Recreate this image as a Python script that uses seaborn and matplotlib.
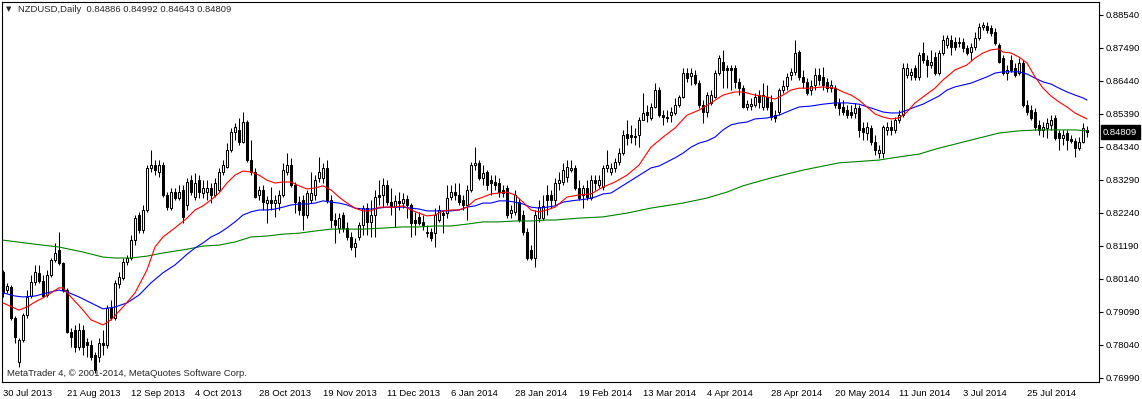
import numpy as np
import pandas as pd
import seaborn as sns
import matplotlib
matplotlib.use("Agg")
import matplotlib.pyplot as plt
import matplotlib.transforms as mtransforms

# daily OHLC, NZDUSD, 30 Jul 2013 .. mid Aug 2014
open_ = [
    0.8036, 0.7978, 0.7988, 0.7889, 0.7749, 0.7819, 0.7898, 0.7959, 0.8004, 0.8033,
    0.8007, 0.7962, 0.8026, 0.8073, 0.8105, 0.8064, 0.7978, 0.7844, 0.7851, 0.7797,
    0.7851, 0.7812, 0.7803, 0.7771, 0.7765, 0.7809, 0.7803, 0.7921, 0.7889, 0.7998,
    0.8017, 0.8067, 0.8080, 0.8137, 0.8217, 0.8169, 0.8233, 0.8367, 0.8376, 0.8354,
    0.8376, 0.8281, 0.8239, 0.8290, 0.8271, 0.8297, 0.8249, 0.8328, 0.8274, 0.8328,
    0.8287, 0.8290, 0.8303, 0.8281, 0.8297, 0.8354, 0.8370, 0.8424, 0.8481, 0.8488,
    0.8449, 0.8513, 0.8392, 0.8354, 0.8281, 0.8297, 0.8255, 0.8265, 0.8255, 0.8255,
    0.8281, 0.8354, 0.8376, 0.8313, 0.8258, 0.8265, 0.8217, 0.8265, 0.8281, 0.8335,
    0.8335, 0.8367, 0.8265, 0.8201, 0.8176, 0.8217, 0.8176, 0.8147, 0.8115, 0.8147,
    0.8185, 0.8239, 0.8195, 0.8217, 0.8281, 0.8281, 0.8313, 0.8258, 0.8242, 0.8262,
    0.8255, 0.8268, 0.8249, 0.8201, 0.8211, 0.8195, 0.8159, 0.8163, 0.8159, 0.8201,
    0.8223, 0.8223, 0.8274, 0.8290, 0.8281, 0.8265, 0.8249, 0.8297, 0.8376, 0.8383,
    0.8335, 0.8354, 0.8328, 0.8322, 0.8319, 0.8297, 0.8303, 0.8223, 0.8227, 0.8258,
    0.8217, 0.8163, 0.8105, 0.8080, 0.8207, 0.8207, 0.8281, 0.8281, 0.8265, 0.8319,
    0.8322, 0.8338, 0.8360, 0.8367, 0.8303, 0.8281, 0.8303, 0.8271, 0.8328, 0.8313,
    0.8306, 0.8367, 0.8354, 0.8367, 0.8386, 0.8414, 0.8475, 0.8472, 0.8469, 0.8472,
    0.8520, 0.8545, 0.8526, 0.8561, 0.8615, 0.8535, 0.8529, 0.8535, 0.8542, 0.8567,
    0.8593, 0.8669, 0.8660, 0.8663, 0.8637, 0.8567, 0.8545, 0.8574, 0.8593, 0.8669,
    0.8704, 0.8685, 0.8685, 0.8685, 0.8641, 0.8621, 0.8561, 0.8564, 0.8567, 0.8599,
    0.8561, 0.8593, 0.8577, 0.8535, 0.8545, 0.8615, 0.8628, 0.8663, 0.8673, 0.8736,
    0.8657, 0.8641, 0.8615, 0.8631, 0.8663, 0.8657, 0.8641, 0.8621, 0.8621, 0.8574,
    0.8561, 0.8551, 0.8545, 0.8542, 0.8558, 0.8494, 0.8478, 0.8494, 0.8449, 0.8414,
    0.8414, 0.8488, 0.8497, 0.8488, 0.8520, 0.8535, 0.8663, 0.8663, 0.8685, 0.8657,
    0.8733, 0.8711, 0.8695, 0.8720, 0.8669, 0.8733, 0.8758, 0.8774, 0.8768, 0.8765,
    0.8768, 0.8749, 0.8736, 0.8752, 0.8781, 0.8816, 0.8819, 0.8813, 0.8800, 0.8758,
    0.8717, 0.8669, 0.8711, 0.8685, 0.8669, 0.8701, 0.8567, 0.8551, 0.8545, 0.8504,
    0.8488, 0.8494, 0.8504, 0.8526, 0.8478, 0.8462, 0.8478, 0.8459, 0.8453, 0.8430,
    0.8449, 0.84886,
]
high = [
    0.8042, 0.8001, 0.7994, 0.7895, 0.7825, 0.7905, 0.7978, 0.8026, 0.8058, 0.8058,
    0.8026, 0.8042, 0.8080, 0.8128, 0.8163, 0.8067, 0.7985, 0.7857, 0.7867, 0.7873,
    0.7867, 0.7825, 0.7819, 0.7781, 0.7825, 0.7851, 0.7930, 0.7946, 0.8010, 0.8036,
    0.8080, 0.8089, 0.8153, 0.8217, 0.8227, 0.8249, 0.8376, 0.8424, 0.8392, 0.8392,
    0.8386, 0.8290, 0.8303, 0.8303, 0.8313, 0.8313, 0.8335, 0.8344, 0.8351, 0.8344,
    0.8328, 0.8328, 0.8319, 0.8335, 0.8367, 0.8392, 0.8446, 0.8494, 0.8510, 0.8526,
    0.8545, 0.8520, 0.8456, 0.8367, 0.8310, 0.8313, 0.8278, 0.8306, 0.8281, 0.8297,
    0.8383, 0.8414, 0.8399, 0.8322, 0.8278, 0.8281, 0.8297, 0.8354, 0.8344, 0.8402,
    0.8383, 0.8392, 0.8281, 0.8223, 0.8223, 0.8227, 0.8195, 0.8163, 0.8144, 0.8195,
    0.8249, 0.8255, 0.8265, 0.8297, 0.8328, 0.8335, 0.8328, 0.8303, 0.8281, 0.8290,
    0.8287, 0.8281, 0.8255, 0.8227, 0.8227, 0.8217, 0.8185, 0.8176, 0.8239, 0.8249,
    0.8233, 0.8313, 0.8313, 0.8319, 0.8319, 0.8281, 0.8313, 0.8386, 0.8433, 0.8392,
    0.8376, 0.8360, 0.8344, 0.8344, 0.8335, 0.8313, 0.8313, 0.8249, 0.8297, 0.8271,
    0.8233, 0.8176, 0.8121, 0.8233, 0.8265, 0.8281, 0.8313, 0.8297, 0.8335, 0.8354,
    0.8383, 0.8392, 0.8392, 0.8376, 0.8328, 0.8313, 0.8328, 0.8344, 0.8344, 0.8344,
    0.8376, 0.8424, 0.8383, 0.8399, 0.8430, 0.8488, 0.8520, 0.8504, 0.8494, 0.8529,
    0.8606, 0.8567, 0.8574, 0.8637, 0.8625, 0.8551, 0.8551, 0.8561, 0.8590, 0.8599,
    0.8685, 0.8685, 0.8685, 0.8679, 0.8647, 0.8583, 0.8609, 0.8615, 0.8679, 0.8727,
    0.8743, 0.8695, 0.8695, 0.8695, 0.8653, 0.8631, 0.8583, 0.8590, 0.8606, 0.8615,
    0.8637, 0.8631, 0.8599, 0.8551, 0.8621, 0.8647, 0.8669, 0.8685, 0.8774, 0.8743,
    0.8679, 0.8653, 0.8647, 0.8685, 0.8685, 0.8688, 0.8653, 0.8647, 0.8631, 0.8590,
    0.8583, 0.8567, 0.8567, 0.8574, 0.8567, 0.8513, 0.8513, 0.8504, 0.8472, 0.8440,
    0.8504, 0.8513, 0.8520, 0.8529, 0.8551, 0.8701, 0.8701, 0.8685, 0.8695, 0.8736,
    0.8768, 0.8727, 0.8743, 0.8736, 0.8743, 0.8790, 0.8790, 0.8790, 0.8784, 0.8784,
    0.8781, 0.8758, 0.8765, 0.8800, 0.8829, 0.8832, 0.8832, 0.8822, 0.8813, 0.8765,
    0.8727, 0.8695, 0.8727, 0.8701, 0.8717, 0.8711, 0.8583, 0.8567, 0.8558, 0.8520,
    0.8513, 0.8526, 0.8535, 0.8535, 0.8488, 0.8488, 0.8488, 0.8472, 0.8462, 0.8465,
    0.8510, 0.84992,
]
low = [
    0.7956, 0.7969, 0.7883, 0.7809, 0.7733, 0.7812, 0.7889, 0.7953, 0.7994, 0.8001,
    0.7956, 0.7956, 0.8020, 0.8067, 0.8058, 0.7972, 0.7841, 0.7797, 0.7781, 0.7787,
    0.7771, 0.7765, 0.7755, 0.7714, 0.7749, 0.7771, 0.7793, 0.7883, 0.7883, 0.7985,
    0.8010, 0.8058, 0.8073, 0.8121, 0.8159, 0.8159, 0.8227, 0.8354, 0.8344, 0.8338,
    0.8274, 0.8233, 0.8233, 0.8265, 0.8265, 0.8191, 0.8233, 0.8281, 0.8265, 0.8271,
    0.8271, 0.8265, 0.8255, 0.8274, 0.8290, 0.8344, 0.8367, 0.8418, 0.8456, 0.8440,
    0.8446, 0.8386, 0.8344, 0.8271, 0.8265, 0.8233, 0.8191, 0.8233, 0.8211, 0.8233,
    0.8274, 0.8344, 0.8306, 0.8223, 0.8217, 0.8169, 0.8207, 0.8255, 0.8265, 0.8322,
    0.8319, 0.8255, 0.8176, 0.8128, 0.8159, 0.8163, 0.8137, 0.8105, 0.8083, 0.8137,
    0.8153, 0.8153, 0.8147, 0.8147, 0.8249, 0.8242, 0.8249, 0.8217, 0.8179, 0.8233,
    0.8239, 0.8207, 0.8147, 0.8153, 0.8185, 0.8169, 0.8147, 0.8134, 0.8115, 0.8195,
    0.8159, 0.8207, 0.8265, 0.8265, 0.8249, 0.8233, 0.8201, 0.8290, 0.8360, 0.8328,
    0.8313, 0.8297, 0.8281, 0.8297, 0.8274, 0.8274, 0.8207, 0.8207, 0.8217, 0.8195,
    0.8153, 0.8073, 0.8073, 0.8051, 0.8195, 0.8201, 0.8217, 0.8239, 0.8249, 0.8297,
    0.8313, 0.8322, 0.8354, 0.8297, 0.8265, 0.8239, 0.8265, 0.8265, 0.8297, 0.8303,
    0.8297, 0.8354, 0.8344, 0.8354, 0.8376, 0.8408, 0.8440, 0.8446, 0.8440, 0.8433,
    0.8520, 0.8513, 0.8520, 0.8558, 0.8529, 0.8504, 0.8513, 0.8513, 0.8535, 0.8561,
    0.8590, 0.8641, 0.8631, 0.8631, 0.8558, 0.8510, 0.8529, 0.8567, 0.8590, 0.8663,
    0.8621, 0.8621, 0.8615, 0.8621, 0.8599, 0.8558, 0.8551, 0.8551, 0.8561, 0.8558,
    0.8551, 0.8551, 0.8520, 0.8513, 0.8535, 0.8606, 0.8615, 0.8647, 0.8663, 0.8647,
    0.8621, 0.8599, 0.8599, 0.8615, 0.8631, 0.8615, 0.8609, 0.8609, 0.8558, 0.8535,
    0.8535, 0.8526, 0.8526, 0.8526, 0.8465, 0.8456, 0.8456, 0.8440, 0.8408, 0.8399,
    0.8399, 0.8472, 0.8472, 0.8478, 0.8510, 0.8529, 0.8653, 0.8647, 0.8647, 0.8647,
    0.8701, 0.8657, 0.8685, 0.8663, 0.8663, 0.8727, 0.8749, 0.8727, 0.8743, 0.8752,
    0.8736, 0.8727, 0.8711, 0.8743, 0.8774, 0.8806, 0.8797, 0.8787, 0.8758, 0.8701,
    0.8663, 0.8647, 0.8673, 0.8657, 0.8663, 0.8561, 0.8535, 0.8520, 0.8488, 0.8472,
    0.8465, 0.8462, 0.8488, 0.8456, 0.8424, 0.8440, 0.8424, 0.8446, 0.8402, 0.8424,
    0.8446, 0.84643,
]
close = [
    0.7972, 0.7991, 0.7889, 0.7829, 0.7819, 0.7898, 0.7956, 0.8004, 0.8036, 0.8007,
    0.7959, 0.8026, 0.8073, 0.8096, 0.8064, 0.7978, 0.7844, 0.7829, 0.7797, 0.7851,
    0.7797, 0.7803, 0.7765, 0.7723, 0.7809, 0.7803, 0.7921, 0.7889, 0.8001, 0.8020,
    0.8067, 0.8080, 0.8137, 0.8207, 0.8169, 0.8233, 0.8367, 0.8376, 0.8360, 0.8376,
    0.8281, 0.8242, 0.8290, 0.8271, 0.8290, 0.8211, 0.8322, 0.8290, 0.8319, 0.8290,
    0.8303, 0.8303, 0.8281, 0.8319, 0.8354, 0.8376, 0.8424, 0.8481, 0.8497, 0.8449,
    0.8513, 0.8392, 0.8354, 0.8274, 0.8297, 0.8258, 0.8265, 0.8255, 0.8265, 0.8281,
    0.8360, 0.8376, 0.8313, 0.8258, 0.8233, 0.8217, 0.8287, 0.8287, 0.8328, 0.8354,
    0.8367, 0.8265, 0.8201, 0.8185, 0.8207, 0.8176, 0.8147, 0.8115, 0.8128, 0.8185,
    0.8239, 0.8195, 0.8217, 0.8274, 0.8274, 0.8313, 0.8258, 0.8246, 0.8262, 0.8255,
    0.8268, 0.8249, 0.8191, 0.8191, 0.8191, 0.8185, 0.8163, 0.8144, 0.8217, 0.8233,
    0.8217, 0.8271, 0.8290, 0.8281, 0.8258, 0.8249, 0.8297, 0.8376, 0.8383, 0.8335,
    0.8351, 0.8313, 0.8319, 0.8313, 0.8290, 0.8287, 0.8217, 0.8233, 0.8281, 0.8201,
    0.8163, 0.8080, 0.8080, 0.8217, 0.8242, 0.8246, 0.8265, 0.8265, 0.8319, 0.8328,
    0.8360, 0.8370, 0.8367, 0.8303, 0.8271, 0.8303, 0.8274, 0.8328, 0.8319, 0.8328,
    0.8367, 0.8376, 0.8367, 0.8386, 0.8414, 0.8472, 0.8462, 0.8465, 0.8465, 0.8520,
    0.8542, 0.8535, 0.8561, 0.8615, 0.8535, 0.8529, 0.8526, 0.8545, 0.8567, 0.8593,
    0.8669, 0.8653, 0.8669, 0.8637, 0.8567, 0.8545, 0.8599, 0.8599, 0.8669, 0.8717,
    0.8679, 0.8679, 0.8679, 0.8641, 0.8621, 0.8561, 0.8570, 0.8570, 0.8593, 0.8577,
    0.8599, 0.8561, 0.8529, 0.8526, 0.8615, 0.8628, 0.8657, 0.8673, 0.8733, 0.8657,
    0.8641, 0.8606, 0.8628, 0.8663, 0.8647, 0.8631, 0.8621, 0.8631, 0.8567, 0.8558,
    0.8545, 0.8535, 0.8535, 0.8558, 0.8488, 0.8481, 0.8497, 0.8449, 0.8424, 0.8424,
    0.8497, 0.8497, 0.8488, 0.8520, 0.8535, 0.8685, 0.8685, 0.8673, 0.8657, 0.8727,
    0.8711, 0.8695, 0.8704, 0.8669, 0.8733, 0.8774, 0.8781, 0.8752, 0.8752, 0.8768,
    0.8749, 0.8733, 0.8752, 0.8781, 0.8816, 0.8822, 0.8806, 0.8797, 0.8765, 0.8704,
    0.8669, 0.8679, 0.8679, 0.8663, 0.8701, 0.8567, 0.8545, 0.8526, 0.8497, 0.8488,
    0.8497, 0.8510, 0.8520, 0.8462, 0.8462, 0.8472, 0.8456, 0.8453, 0.8430, 0.8449,
    0.8494, 0.84809,
]

# moving averages, read at selected bars
red_bar = [0, 4, 6, 8, 10, 12, 14, 15, 17, 20, 22, 25, 27, 30, 33, 36, 38, 40, 43, 46,
           48, 50, 52, 54, 56, 58, 60, 62, 64, 66, 68, 70, 72, 74, 76, 78, 80, 82, 84, 86,
           88, 90, 92, 94, 96, 98, 100, 102, 104, 106, 108, 110, 112, 114, 116, 118, 120,
           122, 124, 126, 128, 130, 132, 134, 136, 138, 141, 144, 147, 150, 153, 156, 159,
           162, 165, 168, 171, 174, 177, 180, 183, 185, 188, 191, 193, 195, 197, 199, 202,
           205, 208, 210, 212, 214, 216, 218, 220, 222, 224, 226, 228, 230, 233, 235, 238,
           241, 243, 245, 247, 249, 250, 252, 254, 256, 258, 260, 262, 264, 266, 268, 270, 271]
red_ma = [0.7937, 0.7914, 0.7924, 0.7940, 0.7953, 0.7969, 0.7985, 0.7985, 0.7956, 0.7914,
          0.7883, 0.7867, 0.7883, 0.7924, 0.7969, 0.8042, 0.8115, 0.8147, 0.8176, 0.8207,
          0.8233, 0.8246, 0.8265, 0.8287, 0.8319, 0.8344, 0.8357, 0.8354, 0.8344, 0.8328,
          0.8319, 0.8322, 0.8322, 0.8310, 0.8300, 0.8303, 0.8310, 0.8297, 0.8274, 0.8255,
          0.8239, 0.8230, 0.8230, 0.8242, 0.8242, 0.8242, 0.8246, 0.8233, 0.8223, 0.8214,
          0.8217, 0.8230, 0.8233, 0.8233, 0.8242, 0.8265, 0.8274, 0.8284, 0.8287, 0.8290,
          0.8281, 0.8258, 0.8233, 0.8227, 0.8233, 0.8242, 0.8274, 0.8281, 0.8284, 0.8306,
          0.8322, 0.8344, 0.8376, 0.8433, 0.8465, 0.8494, 0.8535, 0.8551, 0.8574, 0.8599,
          0.8609, 0.8609, 0.8599, 0.8593, 0.8586, 0.8599, 0.8615, 0.8621, 0.8621, 0.8625,
          0.8621, 0.8609, 0.8599, 0.8583, 0.8561, 0.8539, 0.8529, 0.8523, 0.8526, 0.8545,
          0.8574, 0.8593, 0.8621, 0.8647, 0.8679, 0.8695, 0.8717, 0.8733, 0.8743, 0.8746,
          0.8736, 0.8733, 0.8720, 0.8701, 0.8657, 0.8621, 0.8596, 0.8577, 0.8561, 0.8542,
          0.8529, 0.8523]

blue_bar = [0, 3, 5, 8, 11, 14, 16, 19, 22, 25, 28, 31, 34, 37, 40, 43, 46, 48, 50, 52,
            54, 56, 58, 60, 62, 64, 66, 68, 70, 72, 74, 76, 78, 80, 82, 84, 86, 88, 90, 92,
            96, 100, 102, 104, 106, 108, 110, 112, 114, 116, 118, 120, 122, 124, 126, 128,
            130, 132, 134, 136, 138, 140, 142, 144, 146, 148, 150, 152, 154, 156, 158, 160,
            162, 164, 166, 168, 170, 172, 174, 176, 178, 180, 182, 184, 186, 188, 191, 194,
            197, 199, 202, 205, 208, 211, 214, 217, 220, 222, 224, 226, 228, 230, 232, 234,
            236, 238, 240, 242, 244, 246, 248, 250, 252, 254, 256, 258, 260, 262, 264, 266,
            268, 270, 271]
blue_ma = [0.7969, 0.7959, 0.7956, 0.7959, 0.7969, 0.7978, 0.7972, 0.7956, 0.7937, 0.7918,
           0.7924, 0.7937, 0.7962, 0.8001, 0.8033, 0.8058, 0.8092, 0.8112, 0.8128, 0.8147,
           0.8159, 0.8176, 0.8195, 0.8217, 0.8227, 0.8233, 0.8233, 0.8236, 0.8242, 0.8249,
           0.8252, 0.8252, 0.8255, 0.8262, 0.8258, 0.8255, 0.8249, 0.8239, 0.8236, 0.8236,
           0.8242, 0.8242, 0.8239, 0.8236, 0.8230, 0.8230, 0.8230, 0.8230, 0.8233, 0.8242,
           0.8246, 0.8255, 0.8255, 0.8262, 0.8262, 0.8258, 0.8252, 0.8242, 0.8239, 0.8242,
           0.8246, 0.8258, 0.8262, 0.8265, 0.8268, 0.8274, 0.8284, 0.8287, 0.8303, 0.8319,
           0.8335, 0.8351, 0.8367, 0.8373, 0.8386, 0.8399, 0.8414, 0.8433, 0.8446, 0.8453,
           0.8465, 0.8488, 0.8504, 0.8510, 0.8513, 0.8523, 0.8526, 0.8535, 0.8551, 0.8561,
           0.8564, 0.8570, 0.8574, 0.8574, 0.8570, 0.8558, 0.8545, 0.8542, 0.8542, 0.8551,
           0.8561, 0.8570, 0.8583, 0.8596, 0.8615, 0.8625, 0.8631, 0.8637, 0.8647, 0.8657,
           0.8669, 0.8673, 0.8673, 0.8673, 0.8666, 0.8653, 0.8641, 0.8634, 0.8621, 0.8609,
           0.8599, 0.8590, 0.8583]

green_bar = [0, 8, 14, 20, 25, 28, 32, 36, 40, 46, 50, 54, 58, 62, 66, 70, 74, 78, 82, 86,
             90, 96, 100, 104, 108, 112, 116, 120, 124, 128, 132, 136, 138, 144, 150, 156,
             162, 170, 176, 181, 185, 192, 200, 209, 219, 224, 229, 234, 239, 244, 249, 254,
             259, 264, 268, 271]
green_ma = [0.8137, 0.8124, 0.8115, 0.8099, 0.8083, 0.8080, 0.8080, 0.8086, 0.8096, 0.8108,
            0.8118, 0.8121, 0.8131, 0.8147, 0.8150, 0.8156, 0.8159, 0.8166, 0.8172, 0.8172,
            0.8172, 0.8176, 0.8179, 0.8179, 0.8182, 0.8182, 0.8188, 0.8195, 0.8195, 0.8198,
            0.8198, 0.8201, 0.8201, 0.8207, 0.8211, 0.8223, 0.8239, 0.8255, 0.8271, 0.8290,
            0.8310, 0.8335, 0.8360, 0.8383, 0.8392, 0.8402, 0.8411, 0.8430, 0.8446, 0.8462,
            0.8478, 0.8485, 0.8488, 0.8488, 0.8488, 0.8485]

date_labels = ["30 Jul 2013", "21 Aug 2013", "12 Sep 2013", "4 Oct 2013", "28 Oct 2013",
               "19 Nov 2013", "11 Dec 2013", "6 Jan 2014", "28 Jan 2014", "19 Feb 2014",
               "13 Mar 2014", "4 Apr 2014", "28 Apr 2014", "20 May 2014", "11 Jun 2014",
               "3 Jul 2014", "25 Jul 2014"]
price_ticks = [0.76990, 0.78040, 0.79090, 0.80140, 0.81190, 0.82240,
               0.83290, 0.84340, 0.85390, 0.86440, 0.87490, 0.88540]

W, H = 1142, 399
FS = 6.8


def main():
    sns.set_style("white")
    plt.rcParams["font.family"] = ["Liberation Sans", "DejaVu Sans"]

    df = pd.DataFrame({"open": open_, "high": high, "low": low, "close": close})
    df["bar"] = np.arange(len(df))
    up = df[df["close"] >= df["open"]]
    down = df[df["close"] < df["open"]]

    fig = plt.figure(figsize=(W / 100, H / 100), dpi=100)
    ax = fig.add_axes([2 / W, 17 / H, 1097 / W, 380 / H])

    ax.vlines(df["bar"], df["low"], df["high"], color="black", lw=0.75, zorder=2)
    ax.bar(up["bar"], up["close"] - up["open"], bottom=up["open"], width=0.5,
           color="white", edgecolor="black", lw=0.75, zorder=3)
    ax.bar(down["bar"], down["open"] - down["close"], bottom=down["close"], width=0.5,
           color="black", edgecolor="black", lw=0.75, zorder=3)

    for bars, vals, col in [(green_bar, green_ma, "#008000"),
                            (blue_bar, blue_ma, "#0000ff"),
                            (red_bar, red_ma, "#ff0000")]:
        sns.lineplot(x=bars, y=vals, color=col, lw=0.8, ax=ax, zorder=4)

    ax.set_xlim(-0.25, 274)
    ax.set_ylim(0.76851, 0.88954)

    ax.yaxis.tick_right()
    ax.set_yticks(price_ticks)
    ax.set_yticklabels([f"{p:.5f}" for p in price_ticks])
    ax.set_xticks(range(0, 16 * len(date_labels), 16))
    ax.set_xticklabels(date_labels, ha="left")
    ax.tick_params(axis="both", direction="out", length=3, width=0.8,
                   labelsize=FS, colors="black", pad=2)
    ax.set_xlabel("")
    ax.set_ylabel("")
    for sp in ax.spines.values():
        sp.set_color("black")
        sp.set_linewidth(0.8)

    # current price box on the price scale
    trans = mtransforms.blended_transform_factory(ax.transAxes, ax.transData)
    ax.text(1.0 + 4 / 1097, close[-1], f"{close[-1]:.5f}", transform=trans,
            color="white", fontsize=FS, va="center", ha="left",
            bbox=dict(facecolor="black", edgecolor="black", pad=1.8), clip_on=False)

    fig.text(6 / W, 1 - 9 / H, "\u25bc", fontsize=5, va="center", ha="left",
             family="DejaVu Sans")
    fig.text(18 / W, 1 - 10 / H,
             "NZDUSD,Daily  0.84886 0.84992 0.84643 0.84809",
             fontsize=FS, va="center", ha="left")
    fig.text(7 / W, 1 - 374 / H,
             "MetaTrader 4, \u00a9 2001-2014, MetaQuotes Software Corp.",
             fontsize=FS, va="center", ha="left")

    fig.savefig("out.png", dpi=100, facecolor="white")
    plt.close(fig)


if __name__ == "__main__":
    main()
